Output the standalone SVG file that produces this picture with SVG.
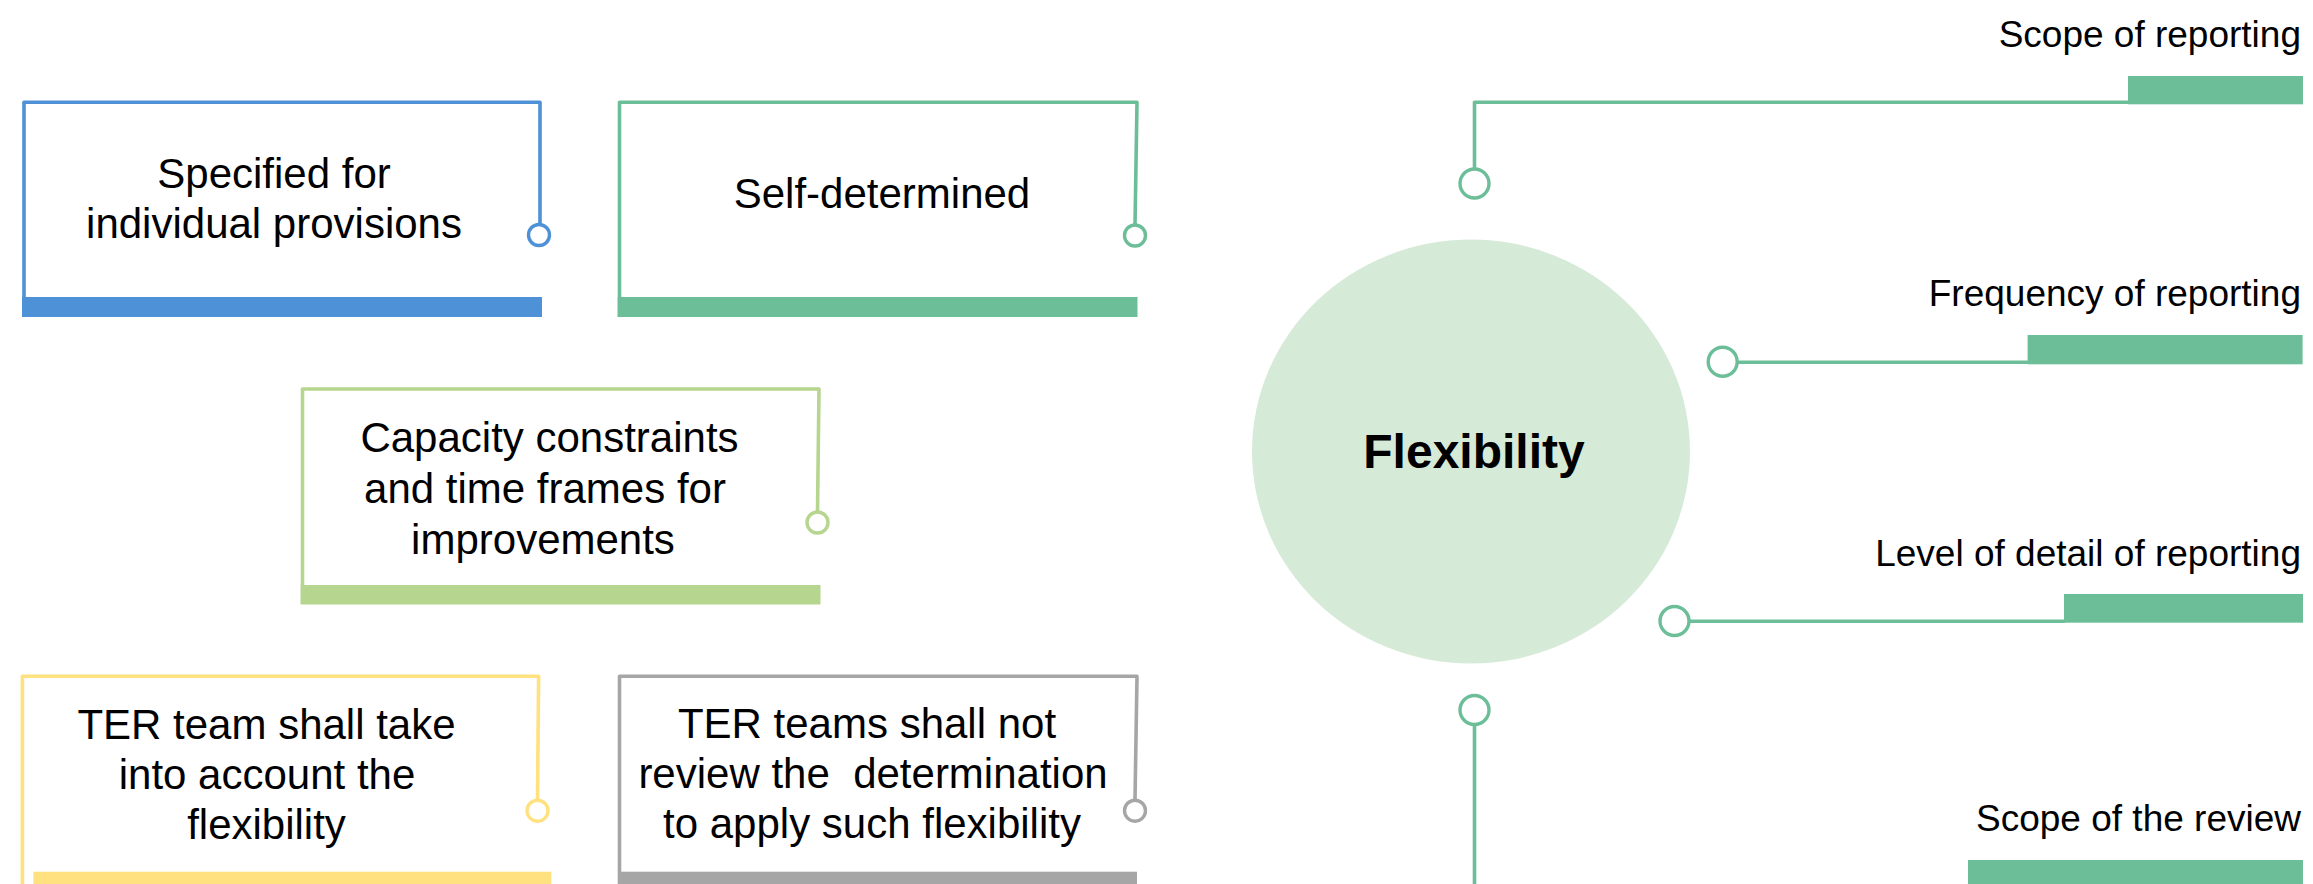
<svg xmlns="http://www.w3.org/2000/svg" width="2313" height="884" viewBox="0 0 2313 884">
<style>
  text { font-family: "Liberation Sans", Arial, sans-serif; fill: #000; }
  .box { font-size: 42px; text-anchor: middle; white-space: pre; }
  .lbl { font-size: 37px; text-anchor: end; }
  .title { font-size: 48px; font-weight: bold; text-anchor: middle; }
  .ln { fill: none; stroke-width: 3.6; stroke-linecap: butt; stroke-linejoin: round; }
  .dot { fill: #fff; stroke-width: 3.4; }
  .blue { stroke: #4E91D6; } .blueF { fill: #4E91D6; }
  .green { stroke: #6CBE98; } .greenF { fill: #6CBE98; }
  .lime { stroke: #B6D58E; } .limeF { fill: #B6D58E; }
  .yellow { stroke: #FFE180; } .yellowF { fill: #FFE180; }
  .gray { stroke: #A6A6A6; } .grayF { fill: #A6A6A6; }
</style>
<rect width="2313" height="884" fill="#fff"/>

<g id="node-specified">
  <path class="ln blue" d="M24,297 V102.3 H540 V224.5"/>
  <circle class="dot blue" cx="539" cy="235" r="10.5"/>
  <rect class="blueF" x="22" y="297" width="520" height="20"/>
  <text class="box" x="274" y="188">Specified for</text>
  <text class="box" x="274" y="238">individual provisions</text>
</g>

<g id="node-self">
  <path class="ln green" d="M619.5,297 V102.3 H1137 L1135,225"/>
  <circle class="dot green" cx="1135" cy="235.5" r="10.5"/>
  <rect class="greenF" x="617.5" y="297" width="520" height="20"/>
  <text class="box" x="882" y="208">Self-determined</text>
</g>

<g id="node-capacity">
  <path class="ln lime" d="M302.5,585 V389 H819 L817.5,512"/>
  <circle class="dot lime" cx="817.5" cy="522.5" r="10.5"/>
  <rect class="limeF" x="300.5" y="585" width="520" height="19.5"/>
  <text class="box" x="549.5" y="452">Capacity constraints</text>
  <text class="box" x="545" y="503">and time frames for</text>
  <text class="box" x="543" y="554">improvements</text>
</g>

<g id="node-ter-take">
  <path class="ln yellow" d="M22.4,884 V676.3 H538.6 L537.5,800"/>
  <circle class="dot yellow" cx="537.5" cy="810.7" r="10.5"/>
  <rect class="yellowF" x="33.3" y="871.7" width="518" height="12.3"/>
  <text class="box" x="266.5" y="739">TER team shall take</text>
  <text class="box" x="267" y="789">into account the</text>
  <text class="box" x="266.5" y="839">flexibility</text>
</g>

<g id="node-ter-review">
  <path class="ln gray" d="M619.5,872 V676.3 H1137 L1135,800"/>
  <circle class="dot gray" cx="1135" cy="810.7" r="10.5"/>
  <rect class="grayF" x="617.7" y="871.7" width="519.3" height="12.3"/>
  <text class="box" x="867" y="738">TER teams shall not</text>
  <text class="box" x="873" y="788">review the  determination</text>
  <text class="box" x="872" y="838">to apply such flexibility</text>
</g>

<g id="node-flexibility">
  <ellipse cx="1471" cy="451.5" rx="219" ry="212" fill="#D6EAD8"/>
  <text class="title" x="1474" y="468">Flexibility</text>
</g>

<g id="node-scope-reporting">
  <rect class="greenF" x="2128" y="76" width="175" height="28.3"/>
  <text class="lbl" x="2301" y="47">Scope of reporting</text>
</g>

<g id="node-frequency">
  <rect class="greenF" x="2027.6" y="335" width="275" height="29.3"/>
  <text class="lbl" x="2301" y="306">Frequency of reporting</text>
</g>

<g id="node-detail">
  <rect class="greenF" x="2064" y="594" width="239" height="28.7"/>
  <text class="lbl" x="2301" y="566">Level of detail of reporting</text>
</g>

<g id="node-scope-review">
  <rect class="greenF" x="1968" y="860" width="335" height="24"/>
  <text class="lbl" x="2301" y="831">Scope of the review</text>
</g>

<g id="connectors">
  <path class="ln green" stroke-width="4" d="M1474.5,169 V102.2 H2129"/>
  <circle class="dot green" cx="1474.5" cy="183.5" r="14.5"/>
  <path class="ln green" stroke-width="4" d="M1737.2,362.2 H2029"/>
  <circle class="dot green" cx="1722.7" cy="361.7" r="14.5"/>
  <path class="ln green" stroke-width="4" d="M1689,621.2 H2065"/>
  <circle class="dot green" cx="1674.5" cy="621" r="14.5"/>
  <path class="ln green" stroke-width="4" d="M1474.5,724.5 V884"/>
  <circle class="dot green" cx="1474.5" cy="710" r="14.5"/>
</g>
</svg>
